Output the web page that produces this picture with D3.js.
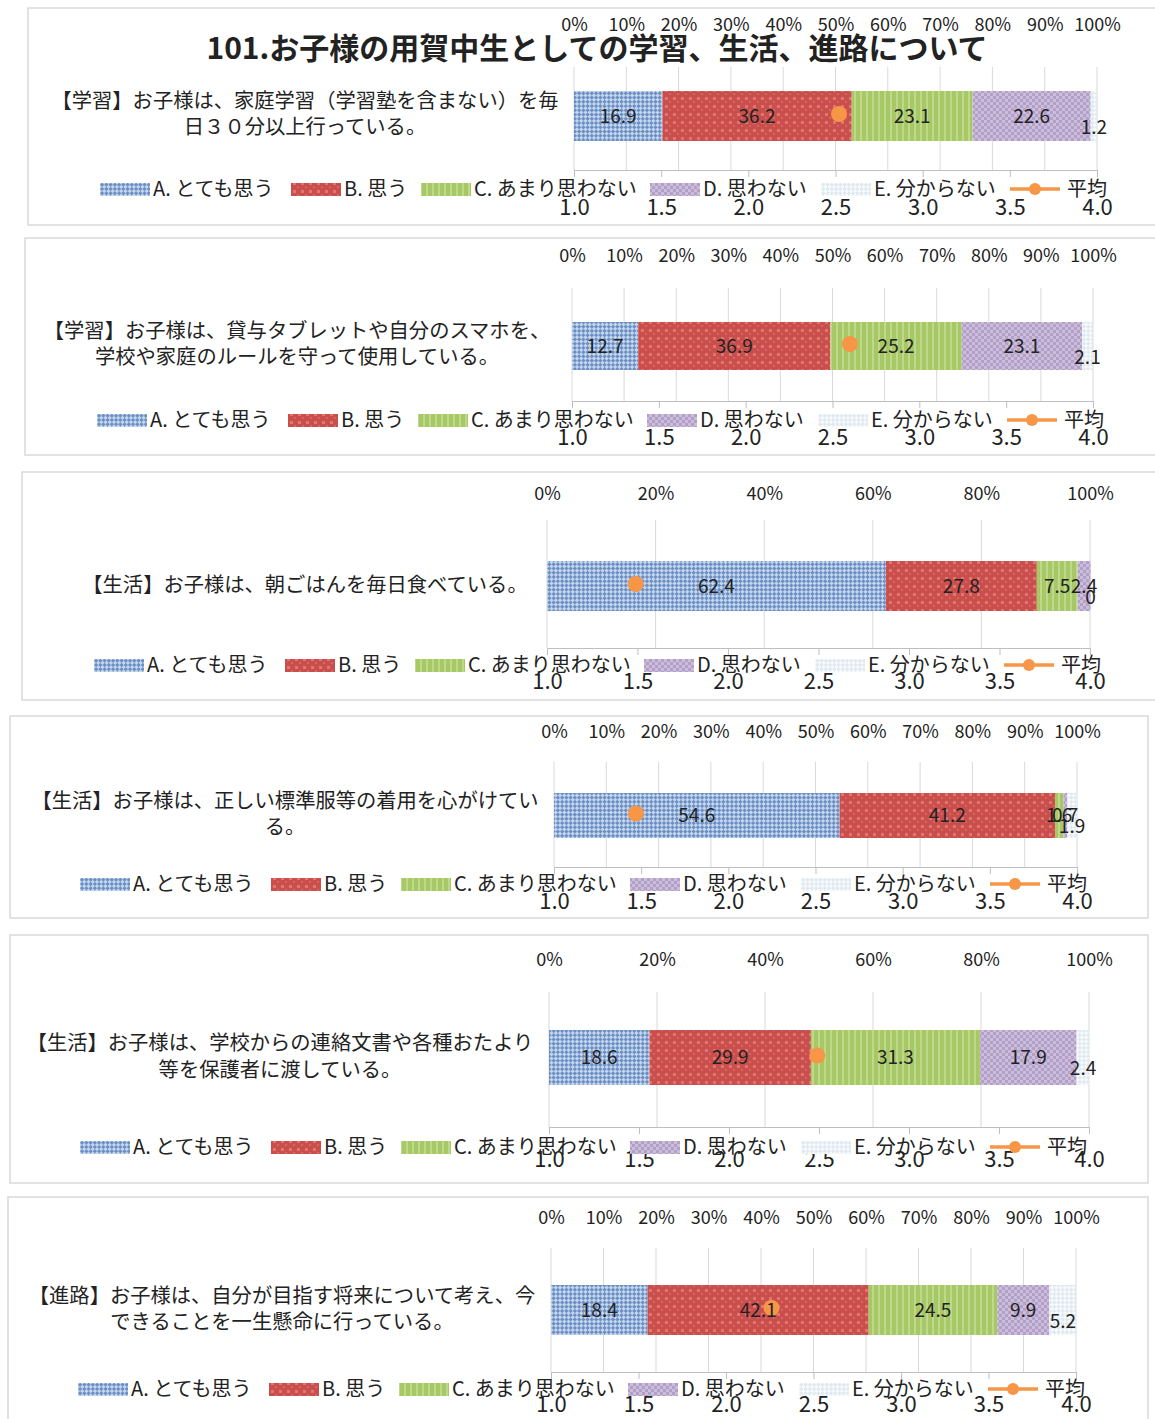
<!DOCTYPE html>
<html>
<head>
<meta charset="utf-8">
<script src="https://cdn.jsdelivr.net/npm/d3@7"></script>
<style>
  body { margin: 0; background: #fff; }
  text { font-family: "Noto Sans CJK JP", "Noto Sans", sans-serif; fill: #222; }
</style>
</head>
<body>
<div id="grafico"></div>
<script>
const title = "101.お子様の用賀中生としての学習、生活、進路について";

const questions = [
  ["【学習】お子様は、家庭学習（学習塾を含まない）を毎", "日３０分以上行っている。"],
  ["【学習】お子様は、貸与タブレットや自分のスマホを、", "学校や家庭のルールを守って使用している。"],
  ["【生活】お子様は、朝ごはんを毎日食べている。"],
  ["【生活】お子様は、正しい標準服等の着用を心がけてい", "る。"],
  ["【生活】お子様は、学校からの連絡文書や各種おたより", "等を保護者に渡している。"],
  ["【進路】お子様は、自分が目指す将来について考え、今", "できることを一生懸命に行っている。"]
];

const seriesNames = ["A. とても思う", "B. 思う", "C. あまり思わない", "D. 思わない", "E. 分からない"];
const avgName = "平均";

const valsA = [16.9, 12.7, 62.4, 54.6, 18.6, 18.4];
const valsB = [36.2, 36.9, 27.8, 41.2, 29.9, 42.1];
const valsC = [23.1, 25.2, 7.5, 1.6, 31.3, 24.5];
const valsD = [22.6, 23.1, 2.4, 0.7, 17.9, 9.9];
const valsE = [1.2, 2.1, 0, 1.9, 2.4, 5.2];
const averages = [2.52, 2.60, 1.49, 1.47, 2.49, 2.26];

const pctStep  = [10, 10, 20, 10, 20, 10];
const avgTicks = [1.0, 1.5, 2.0, 2.5, 3.0, 3.5, 4.0];

// layout of each panel (positions only)
const panels = [
  { fx: 28, fy: 8,    fw: 1140, fh: 217, x0: 574, x1: 1097, topLbl: 25,   gridTop: 67,   bar: [91, 141],    axisY: 170,  legY: 189,  botLbl: 207,  legX: 100, qx: 305, qy: [101, 127] },
  { fx: 25, fy: 238,  fw: 1140, fh: 217, x0: 572, x1: 1093, topLbl: 256,  gridTop: 288,  bar: [322, 370],   axisY: 401,  legY: 420,  botLbl: 437,  legX: 97,  qx: 297, qy: [331, 357] },
  { fx: 22, fy: 472,  fw: 1140, fh: 228, x0: 547, x1: 1090, topLbl: 494,  gridTop: 520,  bar: [561, 611],   axisY: 648,  legY: 665,  botLbl: 681,  legX: 94,  qx: 305, qy: [585] },
  { fx: 10, fy: 716,  fw: 1138, fh: 202, x0: 554, x1: 1077, topLbl: 732,  gridTop: 762,  bar: [793, 838],   axisY: 867,  legY: 884,  botLbl: 901,  legX: 80,  qx: 285, qy: [801, 827] },
  { fx: 10, fy: 935,  fw: 1138, fh: 248, x0: 549, x1: 1089, topLbl: 960,  gridTop: 992,  bar: [1030, 1085], axisY: 1127, legY: 1147, botLbl: 1159, legX: 80,  qx: 280, qy: [1043, 1070] },
  { fx: 8,  fy: 1197, fw: 1140, fh: 240, x0: 551, x1: 1076, topLbl: 1218, gridTop: 1248, bar: [1285, 1335], axisY: 1372, legY: 1389, botLbl: 1404, legX: 78,  qx: 282, qy: [1296, 1322] }
];
const legOffsets = [0, 191, 321, 550, 721, 910];

const svg = d3.select("#grafico")
              .append("svg")
              .attr("width", 1155)
              .attr("height", 1419);

// fill patterns
const defs = svg.append("defs");
const pat = (id, size, base, draw, rot) => {
  const p = defs.append("pattern")
                .attr("id", id)
                .attr("patternUnits", "userSpaceOnUse")
                .attr("width", size).attr("height", size);
  if (rot) p.attr("patternTransform", `rotate(${rot})`);
  p.append("rect").attr("width", size).attr("height", size).attr("fill", base);
  draw(p);
};
pat("pA", 6, "#6c8fc3", p => {
  p.append("rect").attr("width", 3).attr("height", 3).attr("fill", "#c4d6ee");
  p.append("rect").attr("x", 3).attr("y", 3).attr("width", 3).attr("height", 3).attr("fill", "#c4d6ee");
}, 45);
pat("pB", 8, "#c94f4c", p => {
  p.append("rect").attr("x", 1).attr("y", 1).attr("width", 3).attr("height", 3).attr("fill", "#e27573");
  p.append("rect").attr("x", 5).attr("y", 5).attr("width", 2).attr("height", 2).attr("fill", "#d96461");
}, 0);
pat("pC", 6, "#a7c865", p => {
  p.append("rect").attr("x", 2).attr("width", 2).attr("height", 6).attr("fill", "#bdd98c");
}, 0);
pat("pD", 6, "#b3a0c7", p => {
  p.append("rect").attr("width", 3).attr("height", 3).attr("fill", "#cbbddb");
  p.append("rect").attr("x", 3).attr("y", 3).attr("width", 3).attr("height", 3).attr("fill", "#cbbddb");
}, 0);
pat("pE", 6, "#dfe9ef", p => {
  p.append("rect").attr("width", 3).attr("height", 3).attr("fill", "#f7fafc");
  p.append("rect").attr("x", 3).attr("y", 3).attr("width", 3).attr("height", 3).attr("fill", "#f7fafc");
}, 45);
const fills = ["url(#pA)", "url(#pB)", "url(#pC)", "url(#pD)", "url(#pE)"];
const avgColor = "#f79646";

panels.forEach((P, i) => {
  const g = svg.append("g");

  g.append("rect")
   .attr("x", P.fx).attr("y", P.fy)
   .attr("width", P.fw).attr("height", P.fh)
   .attr("fill", "#fff")
   .attr("stroke", "#d9d9d9")
   .attr("stroke-width", 1.5);

  const xScale = d3.scaleLinear().domain([0, 100]).range([P.x0, P.x1]);
  const aScale = d3.scaleLinear().domain([1, 4]).range([P.x0, P.x1]);
  const pTicks = d3.range(0, 100 + 0.1, pctStep[i]);

  // gridlines
  g.selectAll(".grid")
   .data(pTicks)
   .enter()
   .append("line")
   .attr("x1", d => xScale(d)).attr("x2", d => xScale(d))
   .attr("y1", P.gridTop).attr("y2", P.axisY)
   .attr("stroke", "#d9d9d9");

  // top % axis
  const top = g.append("g")
               .attr("transform", `translate(0, ${P.topLbl})`)
               .call(d3.axisTop(xScale).tickValues(pTicks).tickSize(0).tickFormat(d => d + "%"));
  top.select(".domain").remove();
  top.selectAll("text")
     .attr("y", 0).attr("dy", "0.35em")
     .attr("font-size", "18px")
     .attr("font-family", "Noto Sans, sans-serif")
     .attr("fill", "#222");

  // stacked bar
  const vals = [valsA[i], valsB[i], valsC[i], valsD[i], valsE[i]];
  let acc = 0;
  const segs = vals.map((v, k) => {
    const s = { k: k, v: v, x0: acc, x1: acc + v };
    acc += v;
    return s;
  });
  const barH = P.bar[1] - P.bar[0];
  const midY = (P.bar[0] + P.bar[1]) / 2;

  g.selectAll(".seg")
   .data(segs)
   .enter()
   .append("rect")
   .attr("x", d => xScale(d.x0))
   .attr("y", P.bar[0])
   .attr("width", d => Math.max(0, xScale(d.x1) - xScale(d.x0)))
   .attr("height", barH)
   .attr("fill", d => fills[d.k]);

  // bottom average axis
  const bot = g.append("g")
               .attr("transform", `translate(0, ${P.axisY})`)
               .call(d3.axisBottom(aScale).tickValues(avgTicks).tickSize(7).tickFormat(d3.format(".1f")));
  bot.select(".domain").attr("stroke", "#bfbfbf");
  bot.selectAll(".tick line").attr("stroke", "#bfbfbf");
  bot.selectAll("text")
     .attr("y", P.botLbl - P.axisY).attr("dy", "0.35em")
     .attr("font-size", "22px")
     .attr("font-family", "Noto Sans, sans-serif")
     .attr("fill", "#222");

  // average marker (under the data labels)
  g.append("circle")
   .attr("cx", aScale(averages[i]))
   .attr("cy", midY - 2)
   .attr("r", 8)
   .attr("fill", avgColor);

  // data labels
  g.selectAll(".lbl")
   .data(segs)
   .enter()
   .append("text")
   .attr("x", d => xScale((d.x0 + d.x1) / 2))
   .attr("y", d => d.k === 4 ? midY + 11 : midY)
   .attr("dy", "0.35em")
   .attr("text-anchor", "middle")
   .attr("font-size", "19px")
   .attr("font-family", "Noto Sans, sans-serif")
   .text(d => d.v);

  // question label
  g.selectAll(".q")
   .data(questions[i])
   .enter()
   .append("text")
   .attr("x", P.qx)
   .attr("y", (d, k) => P.qy[k])
   .attr("dy", "0.35em")
   .attr("text-anchor", "middle")
   .attr("font-size", "20.3px")
   .text(d => d);

  // legend
  const leg = g.append("g").attr("transform", `translate(${P.legX}, ${P.legY})`);
  seriesNames.forEach((name, k) => {
    leg.append("rect")
       .attr("x", legOffsets[k]).attr("y", -6)
       .attr("width", 50).attr("height", 13)
       .attr("fill", fills[k]);
    leg.append("text")
       .attr("x", legOffsets[k] + 53).attr("y", 0)
       .attr("dy", "0.35em")
       .attr("font-size", "20px")
       .text(name);
  });
  const ax = legOffsets[5];
  leg.append("line")
     .attr("x1", ax).attr("x2", ax + 50)
     .attr("y1", 0).attr("y2", 0)
     .attr("stroke", avgColor).attr("stroke-width", 3.5);
  leg.append("circle")
     .attr("cx", ax + 25).attr("cy", 0).attr("r", 6)
     .attr("fill", avgColor);
  leg.append("text")
     .attr("x", ax + 57).attr("y", 0)
     .attr("dy", "0.35em")
     .attr("font-size", "20px")
     .text(avgName);
});

// chart title (drawn last so it sits above the first panel's axis labels)
svg.append("text")
   .attr("x", 597)
   .attr("y", 48)
   .attr("dy", "0.35em")
   .attr("text-anchor", "middle")
   .attr("font-size", "30px")
   .attr("font-weight", "bold")
   .text(title);
</script>
</body>
</html>
